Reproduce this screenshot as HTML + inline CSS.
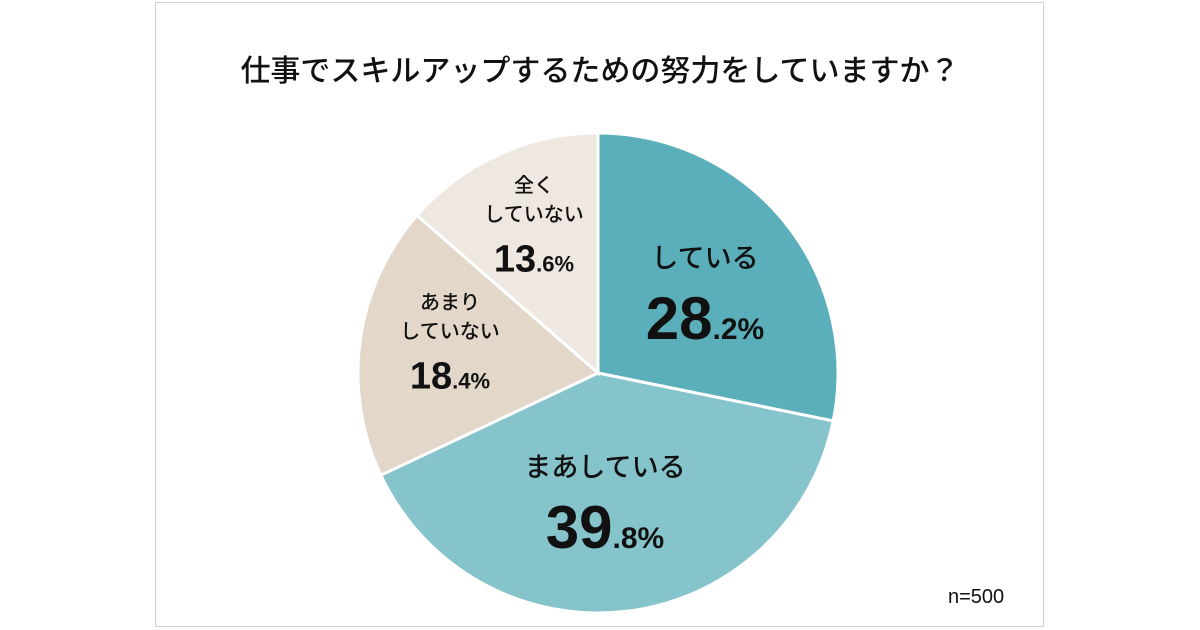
<!DOCTYPE html>
<html><head><meta charset="utf-8">
<style>
html,body{margin:0;padding:0;background:#fff;}
body{width:1200px;height:630px;position:relative;overflow:hidden;font-family:"Liberation Sans","Noto Sans CJK JP",sans-serif;}
#frame{position:absolute;left:155px;top:2px;width:889px;height:625px;border:1px solid #d0d0d0;box-sizing:border-box;}
#title{position:absolute;left:0;width:1200px;top:46px;text-align:center;font-size:30px;font-weight:500;color:#111;font-family:"Noto Sans CJK JP",sans-serif;}
#n{position:absolute;left:948px;top:586px;font-size:20px;color:#111;}
svg{position:absolute;left:0;top:0;}
</style></head><body>
<div id="frame"></div>
<div id="title">仕事でスキルアップするための努力をしていますか？</div>
<div id="n">n=500</div>
<svg id="chart" width="1200" height="630"></svg>
<script>
const categories=["している","まあしている","あまり\nしていない","全く\nしていない"];
const values=[28.2,39.8,18.4,13.6];
const colors=["#5aafba","#86c4cb","#e2d7c9","#efe8e1"];
const NS="http://www.w3.org/2000/svg";
const svg=document.getElementById('chart');
const cx=598,cy=373,r=240;
const total=values.reduce((a,b)=>a+b,0);
function pt(a,rr){return [cx+rr*Math.sin(a),cy-rr*Math.cos(a)];}
let start=0;
const labelPos=[[705,258,60,30,27],[605,467,60,30,27],[450,302,38,22,20],[534,185,38,22,20]];
values.forEach((v,i)=>{
  const ang=v/total*Math.PI*2,end=start+ang;
  const [x1,y1]=pt(start,r),[x2,y2]=pt(end,r);
  const p=document.createElementNS(NS,'path');
  p.setAttribute('d',`M${cx},${cy}L${x1},${y1}A${r},${r} 0 ${ang>Math.PI?1:0} 1 ${x2},${y2}Z`);
  p.setAttribute('fill',colors[i]);p.setAttribute('stroke','#fff');p.setAttribute('stroke-width','3');
  
  
  svg.appendChild(p);
  const [lx,ly,big,small,cat]=labelPos[i];
  const lines=categories[i].split('\n');
  lines.forEach((ln,k)=>{
    const t=document.createElementNS(NS,'text');
    t.setAttribute('x',lx);t.setAttribute('y',ly+k*(cat*1.45)+cat*0.35);
    t.setAttribute('text-anchor','middle');t.setAttribute('font-size',cat);
    t.setAttribute('font-weight','500');
    t.setAttribute('font-family','"Noto Sans CJK JP",sans-serif');t.setAttribute('fill','#111');
    t.textContent=ln;
    
    
    svg.appendChild(t);
  });
  const vy=ly+(lines.length-1)*cat*1.45+(i<2?60:46)+(i<2?big*0.35:big*0.3);
  const [ip,dp]=v.toFixed(1).split('.');
  const t=document.createElementNS(NS,'text');
  t.setAttribute('x',lx);t.setAttribute('y',vy);t.setAttribute('text-anchor','middle');
  t.setAttribute('font-weight','bold');t.setAttribute('fill','#111');
  t.setAttribute('font-family','"Liberation Sans",sans-serif');
  t.innerHTML=`<tspan font-size="${big}">${ip}</tspan><tspan font-size="${small}">.${dp}%</tspan>`;
  
  
  svg.appendChild(t);
  start=end;
});
</script>
</body></html>
